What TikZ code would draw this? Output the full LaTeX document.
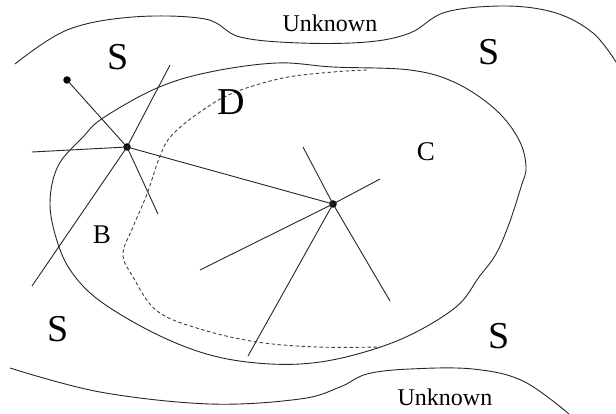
\documentclass[tikz,border=0pt]{standalone}
\usepackage{fontspec}
\setmainfont{Liberation Serif}
\begin{document}
\begin{tikzpicture}[x=1pt,y=-1pt,
  curve/.style={line width=0.9pt, black!85},
  spoke/.style={line width=0.9pt, black!85},
  dashcurve/.style={line width=0.9pt, black!75, dash pattern=on 3.5pt off 2.5pt},
  dotnode/.style={circle, fill=black, inner sep=0pt, minimum size=7.5pt},
  bigS/.style={font=\fontsize{38}{40}\selectfont, inner sep=0pt},
  midlbl/.style={font=\fontsize{27}{29}\selectfont, inner sep=0pt},
  unk/.style={font=\fontsize{24}{26}\selectfont, inner sep=0pt}]
\useasboundingbox (0,0) rectangle (616,414);
% outer boundaries
\draw[curve] plot[smooth, tension=0.6] coordinates {(15,64) (67,30) (133,17) (205,19) (240,37) (300,43) (367,42) (410,33) (446,12) (506,6) (556,13) (593,33) (616,62)};
\draw[curve] plot[smooth, tension=0.6] coordinates {(10,368) (100,392) (210,404) (300,399) (340,387) (367,374) (410,369) (473,369) (523,381) (569,414)};
% closed region
\draw[curve] plot[smooth cycle, tension=0.6] coordinates {(50,204) (58,166) (83,137) (103,118) (157,88) (210,72) (277,63) (333,67) (410,70) (456,83) (496,110) (519,140) (526,167) (521,187) (509,224) (496,254) (479,277) (456,307) (406,337) (350,356) (300,364) (247,362) (200,352) (150,331) (100,301) (73,274) (58,244)};
% dashed boundary
\draw[dashcurve] plot[smooth, tension=0.6] coordinates {(367,70) (333,72) (283,78) (233,93) (200,112) (172,135) (160,156) (147,194) (133,227) (123,254) (133,277) (157,311) (200,329) (257,342) (317,347) (380,347)};
% nodes
\node[dotnode] (a) at (67,80) {};
\node[dotnode] (n1) at (127,147) {};
\node[dotnode] (n2) at (333,204) {};
\coordinate (e1) at (158,214);
\coordinate (e2) at (170,65);
\coordinate (e3) at (32,286);
\coordinate (e4) at (32,152);
\coordinate (f1) at (303,147);
\coordinate (f2) at (380,179);
\coordinate (f3) at (200,270);
\coordinate (f4) at (248,356);
\coordinate (f5) at (390,301);
\draw[spoke] (a.center) -- (n1.center);
\draw[spoke] (n1.center) -- (e1);
\draw[spoke] (n1.center) -- (e2);
\draw[spoke] (n1.center) -- (e3);
\draw[spoke] (n1.center) -- (e4);
\draw[spoke] (n1.center) -- (n2.center);
\draw[spoke] (n2.center) -- (f1);
\draw[spoke] (n2.center) -- (f2);
\draw[spoke] (n2.center) -- (f3);
\draw[spoke] (n2.center) -- (f4);
\draw[spoke] (n2.center) -- (f5);
% labels
\node[bigS] (s1) at (118,57) {S};
\node[bigS] (s2) at (489,52) {S};
\node[bigS] (s3) at (58,329) {S};
\node[bigS] (s4) at (499,336) {S};
\node[bigS] (d) at (231,102) {D};
\node[midlbl] (c) at (426,152) {C};
\node[midlbl] (b) at (102,235) {B};
\node[unk] (u1) at (330,23) {Unknown};
\node[unk] (u2) at (445,397) {Unknown};
\end{tikzpicture}
\end{document}
